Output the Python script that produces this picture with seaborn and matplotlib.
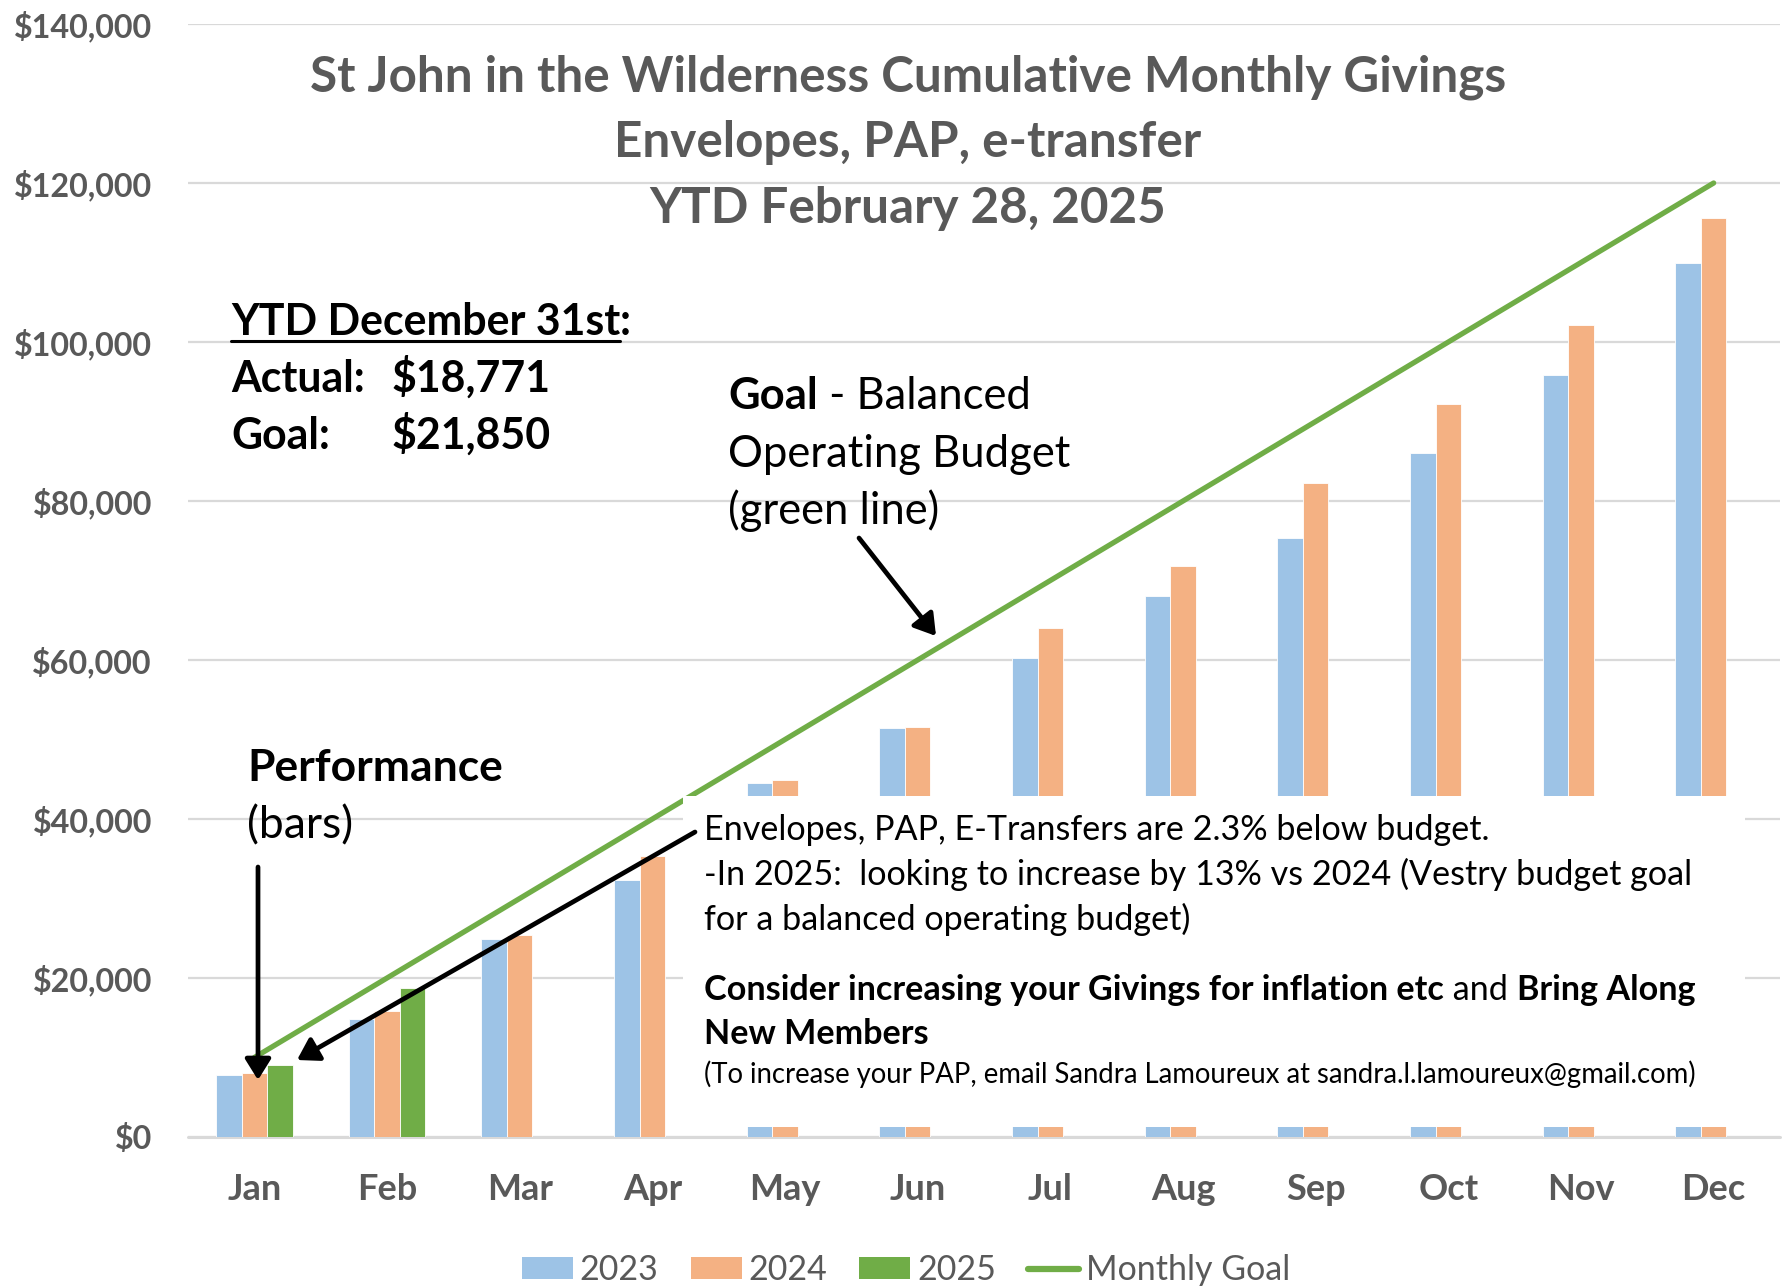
import numpy as np
import pandas as pd
import matplotlib
matplotlib.use("Agg")
import matplotlib.pyplot as plt
import seaborn as sns
from matplotlib.patches import Rectangle, FancyArrowPatch, Patch
from matplotlib.lines import Line2D

# ---------------- data ----------------
months = ["Jan", "Feb", "Mar", "Apr", "May", "Jun", "Jul", "Aug", "Sep", "Oct", "Nov", "Dec"]
years = ["2023", "2024", "2025"]
givings_2023 = [7800, 14900, 24900, 32300, 44500, 51500, 60300, 68100, 75300, 86100, 95800, 109900]
givings_2024 = [8050, 15900, 25400, 35400, 44900, 51600, 64000, 71800, 82300, 92200, 102200, 115600]
givings_2025 = [9100, 18771, None, None, None, None, None, None, None, None, None, None]
monthly_goal = [10000, 20000, 30000, 40000, 50000, 60000, 70000, 80000, 90000, 100000, 110000, 120000]
y_ticks = [0, 20000, 40000, 60000, 80000, 100000, 120000, 140000]
y_tick_labels = ["$0", "$20,000", "$40,000", "$60,000", "$80,000", "$100,000", "$120,000", "$140,000"]

title_lines = ["St John in the Wilderness Cumulative Monthly Givings",
               "Envelopes, PAP, e-transfer",
               "YTD February 28, 2025"]
legend_labels = ["2023", "2024", "2025", "Monthly Goal"]

C2023, C2024, C2025 = "#9DC3E6", "#F4B183", "#70AD47"
GOAL = "#70AD47"
GREY = "#595959"
FONT = ["Lato", "DejaVu Sans"]

sns.set_theme(style="white")
plt.rcParams["font.family"] = FONT

W, H = 1785, 1288
fig = plt.figure(figsize=(W / 100, H / 100), dpi=100)
fig.patch.set_facecolor("white")


def fx(x):
    return x / W


def fy(y):
    return 1 - y / H


ax = fig.add_axes([fx(188), fy(1137), (1780 - 188) / W, (1137 - 24) / H])

df = pd.DataFrame({
    "Month": months * 3,
    "Year": [y for y in years for _ in months],
    "Value": givings_2023 + givings_2024 + givings_2025,
})
df["Value"] = pd.to_numeric(df["Value"])
df = df.dropna()

sns.barplot(data=df, x="Month", y="Value", hue="Year", order=months, hue_order=years,
            palette=[C2023, C2024, C2025], width=0.58, saturation=1, errorbar=None,
            edgecolor="white", linewidth=0.6, ax=ax, legend=False)
sns.lineplot(x=np.arange(len(months)), y=monthly_goal, ax=ax, color=GOAL, linewidth=3.8,
             solid_capstyle="round", legend=False)

renderer = fig.canvas.get_renderer()


def size_for(s, target, weight="normal", base=20.0):
    t = fig.text(0, 0, s, fontsize=base, fontweight=weight)
    w = t.get_window_extent(renderer).width
    t.remove()
    return base * target / w


ytick_size = size_for("$140,000", 140, "bold")
xtick_size = size_for("Jan", 54, "bold")
leg_size = size_for("Monthly Goal", 204)

ax.set_xlim(-0.5, 11.5)
ax.set_ylim(0, 140000)
ax.set_yticks(y_ticks)
ax.set_yticklabels(y_tick_labels)
ax.set_xlabel("")
ax.set_ylabel("")
for s in ax.spines.values():
    s.set_visible(False)
ax.grid(axis="y", color="#D9D9D9", linewidth=1.6)
ax.grid(axis="x", visible=False)
ax.set_axisbelow(True)
ax.axhline(0, color="#D9D9D9", linewidth=2.2, clip_on=False, zorder=0.5)
ax.tick_params(axis="y", length=0, pad=26, labelsize=ytick_size, labelcolor=GREY)
ax.tick_params(axis="x", length=0, pad=26, labelsize=xtick_size, labelcolor=GREY)
for lab in ax.get_xticklabels() + ax.get_yticklabels():
    lab.set_fontweight("bold")

# ---------------- white text box over the lower right bars ----------------
fig.add_artist(Rectangle((fx(683), fy(1127)), (1745 - 683) / W, (1127 - 796) / H,
                         transform=fig.transFigure, facecolor="white", edgecolor="none", zorder=1))


def put(s, x, y, size, weight="normal", color="black", ha="left"):
    return fig.text(fx(x), fy(y), s, fontsize=size, fontweight=weight, color=color,
                    ha=ha, va="baseline", zorder=3)


def seq(parts, x, y, size, color="black"):
    cur = x
    for s, wgt in parts:
        t = put(s, cur, y, size, wgt, color)
        cur += t.get_window_extent(renderer).width


# title
tsize = size_for(title_lines[0], 1195, "bold")
for line, yb in zip(title_lines, [91, 157, 223]):
    put(line, 908, yb, tsize, "bold", GREY, ha="center")

# YTD block
ysize = size_for("YTD December 31st:", 401, "bold")
t = put("YTD December 31st", 231, 335, ysize, "bold")
ext = t.get_window_extent(renderer)
put(":", 231 + ext.width, 335, ysize, "bold")
fig.add_artist(Line2D([fx(231), fx(231 + ext.width)], [fy(341), fy(341)],
                      transform=fig.transFigure, color="black", linewidth=2.2))
put("Actual:", 231, 392, ysize, "bold")
put("$18,771", 392, 392, ysize, "bold")
put("Goal:", 231, 449, ysize, "bold")
put("$21,850", 392, 449, ysize, "bold")

# Goal annotation
gsize = size_for("Operating Budget", 343)
seq([("Goal", "bold"), (" - Balanced", "normal")], 728, 409, gsize)
put("Operating Budget", 728, 467, gsize)
put("(green line)", 728, 524, gsize)

# Performance annotation
psize = size_for("Performance", 255, "bold")
put("Performance", 247, 781, psize, "bold")
put("(bars)", 247, 838, psize)

# box texts
bsize = size_for("-In 2025:  looking to increase by 13% vs 2024 (Vestry budget goal", 988)
put("Envelopes, PAP, E-Transfers are 2.3% below budget.", 704, 840, bsize)
put("-In 2025:  looking to increase by 13% vs 2024 (Vestry budget goal", 704, 885, bsize)
put("for a balanced operating budget)", 704, 930, bsize)
seq([("Consider increasing your Givings for inflation etc", "bold"), (" and ", "normal"),
     ("Bring Along", "bold")], 704, 1000, bsize)
put("New Members", 704, 1044, bsize, "bold")
ssize = size_for("(To increase your PAP, email Sandra Lamoureux at sandra.l.lamoureux@gmail.com)", 995)
put("(To increase your PAP, email Sandra Lamoureux at sandra.l.lamoureux@gmail.com)", 704, 1083, ssize)

# arrows
for (x0, y0), (x1, y1) in [((859, 538), (936, 636)),
                           ((258, 867), (258, 1080)),
                           ((695, 832), (297, 1060))]:
    fig.add_artist(FancyArrowPatch((fx(x0), fy(y0)), (fx(x1), fy(y1)), transform=fig.transFigure,
                                   arrowstyle="-|>,head_length=0.45,head_width=0.28",
                                   mutation_scale=28, color="black", linewidth=3.4,
                                   shrinkA=0, shrinkB=0, zorder=4))

# legend
handles = [Patch(facecolor=C2023, edgecolor="none"), Patch(facecolor=C2024, edgecolor="none"),
           Patch(facecolor=C2025, edgecolor="none"),
           Line2D([0], [0], color=GOAL, linewidth=4.5, solid_capstyle="round")]
fig.legend(handles, legend_labels, loc="center", bbox_to_anchor=(fx(906), fy(1270)), ncol=4,
           frameon=False, fontsize=leg_size, labelcolor=GREY, handlelength=1.5,
           handleheight=0.62, handletextpad=0.2, columnspacing=0.95, borderpad=0)

fig.savefig("out.png", dpi=100, facecolor="white")
